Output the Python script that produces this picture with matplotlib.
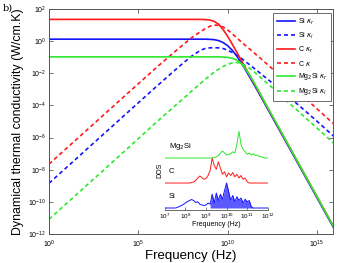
import numpy as np
import matplotlib
matplotlib.use("Agg")
import matplotlib.pyplot as plt
from matplotlib.ticker import NullLocator, LogFormatterMathtext

plt.rcParams['font.family'] = ['Liberation Sans', 'DejaVu Sans']
plt.rcParams['mathtext.fontset'] = 'dejavusans'

# log10 of frequency (Hz) at which the curves were read
freq_exp = [0, 4, 6, 7, 7.5, 8, 8.5, 8.75, 9, 9.25, 9.5, 9.75, 10, 10.25,
            10.5, 10.75, 11, 11.25, 11.5, 12, 13, 14, 15, 16]

# log10 of conductivity (W/cm.K)
si_kr_exp = [0.12, 0.12, 0.12, 0.12, 0.12, 0.12, 0.12, 0.12, 0.11, 0.09, 0.03, -0.09,
             -0.28, -0.55, -0.9, -1.32, -1.78, -2.25, -2.73, -3.72, -5.72, -7.72, -9.72, -11.72]
si_ki_exp = [-8.84, -4.84, -2.84, -1.86, -1.38, -0.93, -0.56, -0.46, -0.42, -0.41, -0.42, -0.46,
             -0.56, -0.7, -0.86, -1.05, -1.27, -1.48, -1.7, -2.15, -3.05, -4.0, -4.97, -5.97]
c_kr_exp = [1.35, 1.35, 1.35, 1.35, 1.35, 1.35, 1.35, 1.34, 1.31, 1.23, 1.05, 0.72,
            0.31, -0.16, -0.65, -1.15, -1.65, -2.15, -2.65, -3.65, -5.65, -7.65, -9.65, -11.65]
c_ki_exp = [-7.65, -3.65, -1.66, -0.7, -0.24, 0.22, 0.6, 0.77, 0.92, 1.0, 0.98, 0.88,
            0.7, 0.47, 0.22, -0.03, -0.27, -0.5, -0.74, -1.22, -2.21, -3.2, -4.2, -5.2]
mg_kr_exp = [-0.98, -0.98, -0.98, -0.98, -0.98, -0.98, -0.98, -0.98, -0.98, -0.98, -0.98, -0.99,
             -1.01, -1.06, -1.17, -1.38, -1.72, -2.13, -2.6, -3.62, -5.63, -7.64, -9.65, -11.66]
mg_ki_exp = [-11.08, -7.08, -5.06, -4.08, -3.6, -3.1, -2.62, -2.38, -2.15, -1.94, -1.75, -1.58,
             -1.45, -1.36, -1.33, -1.38, -1.52, -1.7, -1.92, -2.4, -3.4, -4.4, -5.4, -6.4]

labels = ['Si $\\kappa_r$', 'Si $\\kappa_i$', 'C $\\kappa_r$', 'C $\\kappa$',
          'Mg$_2$Si $\\kappa_r$', 'Mg$_2$Si $\\kappa_i$']

# inset DOS (log10 Hz, arbitrary units)
dos_exp = [7.0, 7.1, 7.2, 7.3, 7.4, 7.5, 7.6, 7.7, 7.8, 7.9, 8.0, 8.1, 8.2, 8.3, 8.4, 8.5, 8.6,
           8.7, 8.8, 8.9, 9.0, 9.1, 9.2, 9.3, 9.4, 9.5, 9.6, 9.7, 9.8, 9.9, 10.0, 10.1, 10.2,
           10.3, 10.4, 10.5, 10.6, 10.7, 10.8, 10.9, 11.0, 11.1, 11.2, 11.3, 11.4, 11.5, 11.6,
           11.7, 11.8, 11.9, 12.0]
si_dos = [0, 0, 0, 0, 0, 0, 0.02, 0.06, 0.1, 0.14, 0.2, 0.26, 0.3, 0.34, 0.3, 0.22, 0.25,
          0.15, 0.12, 0.1, 0.12, 0.2, 0.15, 0.55, 0.2, 0.6, 0.3, 0.55, 0.35, 0.7, 1.0, 0.65, 0.3,
          0.5, 0.25, 0.45, 0.3, 0.4, 0.2, 0.35, 0.25, 0.3, 0.05, 0, 0, 0, 0, 0, 0, 0, 0]
c_dos = [0, 0, 0, 0, 0, 0, 0, 0, 0, 0, 0, 0, 0, 0.02, 0.05, 0.1, 0.2, 0.28, 0.22, 0.15, 0.18,
         0.3, 0.5, 1.0, 0.7, 0.55, 0.85, 0.6, 0.35, 0.45, 0.25, 0.4, 0.3, 0.42, 0.25, 0.35, 0.2,
         0.3, 0.15, 0.2, 0.05, 0, 0, 0, 0, 0, 0, 0, 0, 0, 0]
mg_dos = [0, 0, 0, 0, 0, 0, 0, 0, 0, 0, 0, 0, 0, 0, 0, 0, 0, 0, 0, 0, 0, 0, 0, 0, 0.02, 0.05,
          0.1, 0.2, 0.28, 0.2, 0.12, 0.15, 0.18, 0.25, 0.2, 0.55, 1.07, 0.55, 0.35, 0.25, 0.15,
          0.2, 0.12, 0.18, 0.1, 0.12, 0.06, 0.05, 0.02, 0, 0]

blue = '#1414ff'
red = '#ff1a1a'
green = '#2ee82e'

fig = plt.figure(figsize=(3.5, 2.63), dpi=100)
ax = fig.add_axes([0.14, 0.11, 0.811, 0.856])

f = 10.0 ** np.array(freq_exp)
dash = (2.4, 1.8)
ax.plot(f, 10.0 ** np.array(si_kr_exp), color=blue, lw=1.2, label=labels[0])
ax.plot(f, 10.0 ** np.array(si_ki_exp), color=blue, lw=1.2, dashes=dash, label=labels[1])
ax.plot(f, 10.0 ** np.array(c_kr_exp), color=red, lw=1.2, label=labels[2])
ax.plot(f, 10.0 ** np.array(c_ki_exp), color=red, lw=1.2, dashes=dash, label=labels[3])
ax.plot(f, 10.0 ** np.array(mg_kr_exp), color=green, lw=1.2, label=labels[4])
ax.plot(f, 10.0 ** np.array(mg_ki_exp), color=green, lw=1.2, dashes=dash, label=labels[5])

ax.set_xscale('log')
ax.set_yscale('log')
ax.set_xlim(1, 10 ** 15.9)
ax.set_ylim(1e-12, 1e2)
ax.set_xticks([1e0, 1e5, 1e10, 1e15])
ax.set_yticks([10.0 ** k for k in range(-12, 3, 2)])
ax.xaxis.set_minor_locator(NullLocator())
ax.yaxis.set_minor_locator(NullLocator())
ax.tick_params(direction='in', top=True, right=True, length=3, width=0.6,
               labelsize=5, color='#555555', pad=2)
ax.tick_params(axis='x', pad=3.5)
for s in ax.spines.values():
    s.set_linewidth(0.7)
    s.set_color('#555555')

ax.set_xlabel('Frequency (Hz)', fontsize=9.5, labelpad=0)
ax.set_ylabel('Dynamical thermal conductivity (W/cm.K)', fontsize=8.9, labelpad=3)

leg = ax.legend(loc='upper right', bbox_to_anchor=(0.993, 0.982), borderaxespad=0,
                fontsize=5, handlelength=2.6, handletextpad=0.4, labelspacing=0.55,
                borderpad=0.5, fancybox=False, framealpha=1)
leg.get_frame().set_edgecolor('#555555')
leg.get_frame().set_linewidth(0.6)

fig.text(0.008, 0.968, 'b)', fontsize=7, family='DejaVu Serif', va='center')

# inset with density of states
ins = fig.add_axes([0.471, 0.2015, 0.294, 0.304])
ins.patch.set_alpha(0)
fd = 10.0 ** np.array(dos_exp)
for vals, off, col, name in [(si_dos, 0, blue, 'Si'), (c_dos, 1, red, 'C'),
                             (mg_dos, 2, green, 'Mg$_2$Si')]:
    y = np.array(vals) + off
    ins.plot(fd, y, color=col, lw=0.7)
    if name == 'Si':
        ins.fill_between(fd[22:], off, y[22:], color=col, alpha=0.7, lw=0)
    ins.text(10 ** 7.2, off + 0.45, name, fontsize=5.5, va='center')
ins.set_xscale('log')
ins.set_xlim(1e7, 1e12)
ins.set_ylim(-0.08, 3.12)
ins.set_yticks([])
ins.xaxis.set_minor_locator(NullLocator())
ins.xaxis.set_major_formatter(LogFormatterMathtext())
for k in ['top', 'left', 'right']:
    ins.spines[k].set_visible(False)
ins.spines['bottom'].set_linewidth(0.6)
ins.spines['bottom'].set_color('#555555')
ins.tick_params(axis='x', direction='in', length=2, width=0.5, labelsize=4.5, pad=1.5,
                color='#555555')
ins.set_xlabel('Frequency (Hz)', fontsize=5, labelpad=0)
ins.set_ylabel('DOS', fontsize=5, labelpad=1)

fig.savefig('out.png', dpi=100)
